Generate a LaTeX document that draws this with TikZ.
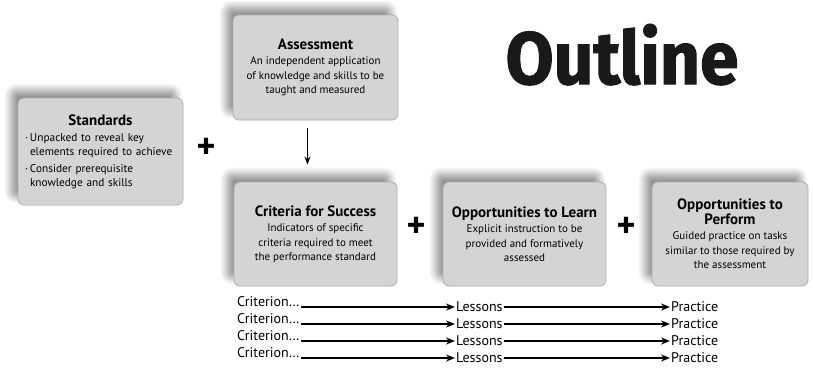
\documentclass[tikz,border=0pt]{standalone}
\usepackage{fontspec}
\setmainfont{PT Sans}
\newfontfamily\bigfont[FakeBold=1.5]{Fira Sans}
\usetikzlibrary{positioning,calc,shadows.blur,arrows.meta}
\newcommand\ttl{\bfseries\fontsize{15}{17}\selectfont}
\newcommand\bdy{\mdseries\fontsize{11}{14.5}\selectfont}
\newcommand\dotitem{\makebox[5pt][l]{·}}

\begin{document}
\begin{tikzpicture}[x=1pt,y=-1pt]
            \tikzstyle{card}=[rectangle, rounded corners=6pt, draw=black!32,
            fill=black!17, line width=0.8pt, align=center, inner sep=3pt, font=\bdy,
            blur shadow={shadow xshift=-7pt, shadow yshift=8pt,
            shadow blur steps=12, shadow blur radius=7pt, shadow opacity=42}]
            \tikzstyle{plus}=[font=\bfseries\fontsize{36}{36}\selectfont, inner sep=0pt]
            \tikzstyle{row}=[font=\fontsize{14}{14}\selectfont, inner sep=1pt]
            \tikzstyle{arr}=[-{Stealth[length=9pt,width=7pt]}, line width=1.6pt]
            \useasboundingbox (0,0) rectangle (813,368);
            % title
            \node[anchor=base, text=black!90] (title) at (622,84)
              {\bigfont\bfseries\fontsize{74}{74}\selectfont\scalebox{0.94}[1]{Outline}};
            % boxes
            \node[card, minimum width=165, minimum height=107, text width=151,
              align=left, font=\fontsize{11.3}{14}\selectfont] (stand) at (100.5,151.5)
              {{\centering\ttl Standards\par}\vspace{2pt}
               \dotitem Unpacked to reveal key\\\hspace*{5pt}elements required to achieve\par\vspace{3pt}
               \dotitem Consider prerequisite\\\hspace*{5pt}knowledge and skills};
            \node[card, minimum width=165, minimum height=105] (assess) at (315.5,67.5)
              {\ttl Assessment\\[1pt]An independent application\\of knowledge and skills to be\\taught and measured};
            \node[card, minimum width=163, minimum height=104] (crit) at (315.5,234)
              {\ttl Criteria for Success\\[1pt]Indicators of specific\\criteria required to meet\\the performance standard};
            \node[card, minimum width=163, minimum height=104] (learn) at (524.5,234)
              {\ttl Opportunities to Learn\\[1pt]Explicit instruction to be\\provided and formatively\\assessed};
            \node[card, minimum width=156, minimum height=104] (perf) at (730,234)
              {\ttl Opportunities to\\\ttl Perform\\[1pt]Guided practice on tasks\\similar to those required by\\the assessment};
            % plus signs
            \node[plus] (p1) at (206,148) {+};
            \node[plus] (p2) at (416,227) {+};
            \node[plus] (p3) at (626,227) {+};
            \coordinate (down) at ($(assess.south)+(-8,8)$);
            \coordinate (up) at ($(crit.north)+(-8,-17)$);
            \path (down) edge [-{Stealth[length=8pt,width=6pt]}, line width=1.2pt] (up);
            % rows
            \foreach \i/\y in {1/307,2/324,3/341,4/358} {
              \node[row, anchor=west] (cr\i) at (236,\y-5) {Criterion…};
              \node[row, anchor=west] (le\i) at (455,\y) {Lessons};
              \node[row, anchor=west] (pr\i) at (670,\y) {Practice};
              \path (cr\i.east |- le\i.west) edge [arr] (le\i.west)
                    (le\i.east) edge [arr] (pr\i.west);
            }
        \end{tikzpicture}
\end{document}
